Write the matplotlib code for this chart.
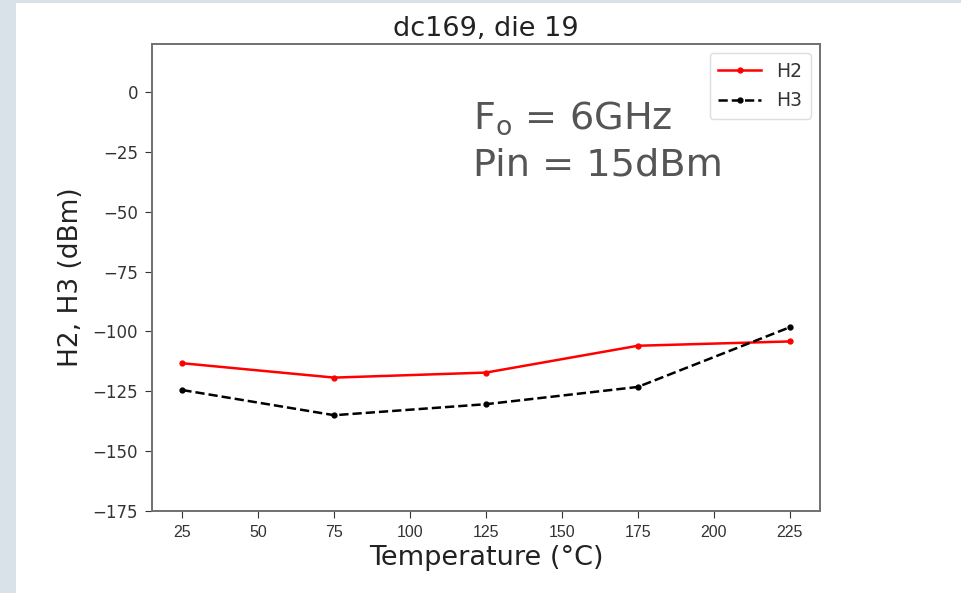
import matplotlib
matplotlib.use("Agg")
import matplotlib.pyplot as plt
from matplotlib.patches import Rectangle

temps = [25, 75, 125, 175, 225]
h2_dbm = [-113.3, -119.3, -117.2, -106.0, -104.2]
h3_dbm = [-124.5, -135.0, -130.4, -123.2, -98.3]
yticks = [0, -25, -50, -75, -100, -125, -150, -175]
xticks = [25, 50, 75, 100, 125, 150, 175, 200, 225]

fig = plt.figure(figsize=(9.61, 5.93), dpi=100, facecolor='#d8e2e8')
# white card over the page background
fig.patches.append(Rectangle((16/961, 0), 1, (593-3)/593, transform=fig.transFigure,
                             facecolor='white', edgecolor='none', zorder=-10))

ax = fig.add_axes([152/961, 1 - 511/593, (820-152)/961, (511-44)/593])
ax.set_zorder(5)
ax.plot(temps, h2_dbm, color='red', marker='.', markersize=7, lw=1.8, label='H2')
ax.plot(temps, h3_dbm, color='black', ls='--', marker='.', markersize=7, lw=1.8, label='H3')

ax.set_xlim(15, 235)
ax.set_ylim(-175, 20)
ax.set_xticks(xticks)
ax.set_yticks(yticks)
ax.tick_params(axis='y', labelsize=12, colors='#333333', length=5, pad=5)
ax.tick_params(axis='x', length=5, pad=5, colors='#333333')
for lab in ax.get_xticklabels():
    lab.set_family('Liberation Sans')
    lab.set_fontsize(11.5)
for s in ax.spines.values():
    s.set_color('#707070')
    s.set_linewidth(1.4)

ax.set_title('dc169, die 19', fontsize=19.5, color='#222222', pad=6)
ax.set_xlabel('Temperature (°C)', fontsize=19.5, color='#222222', labelpad=4)
ax.set_ylabel('H2, H3 (dBm)', fontsize=19, color='#222222', labelpad=6)

leg = ax.legend(loc='upper right', fontsize=13.5, handlelength=2.3, framealpha=1,
                edgecolor='#dddddd', borderpad=0.45, labelspacing=0.55,
                borderaxespad=0.5)
for t in leg.get_texts():
    t.set_color('#333333')

ax.text(0.48, 0.818, r'F$_\mathrm{o}$ = 6GHz', transform=ax.transAxes, family='DejaVu Sans',
        fontsize=27.5, color='#555555', ha='left', va='baseline')
ax.text(0.48, 0.718, 'Pin = 15dBm', transform=ax.transAxes, family='DejaVu Sans',
        fontsize=27.5, color='#555555', ha='left', va='baseline')

fig.savefig('out.png', dpi=100, facecolor=fig.get_facecolor())
